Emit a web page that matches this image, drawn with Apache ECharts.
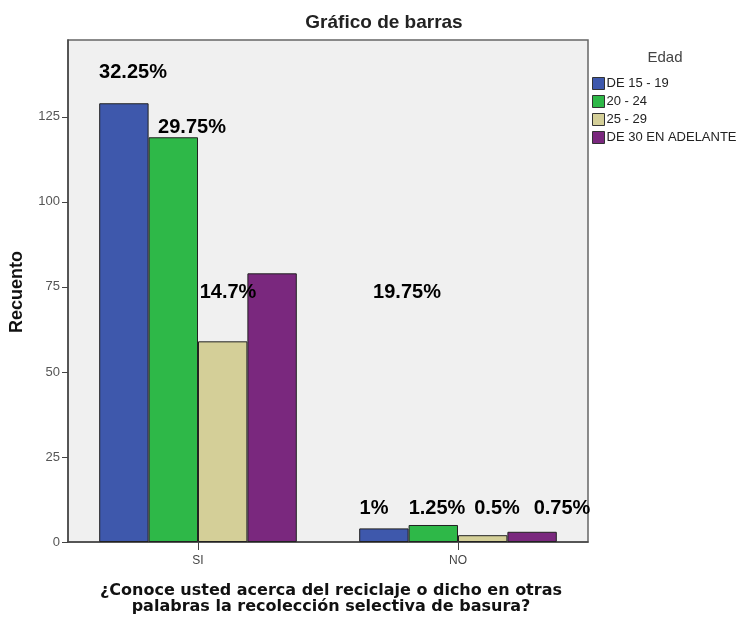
<!DOCTYPE html>
<html><head><meta charset="utf-8">
<script src="https://cdn.jsdelivr.net/npm/echarts@6/dist/echarts.min.js"></script>
<style>html,body{margin:0;padding:0;background:#fff}#c{width:739px;height:617px}</style>
</head><body><div id="c"></div>
<script>
const categories = ['SI', 'NO'];
const seriesNames = ['DE 15 - 19', '20 - 24', '25 - 29', 'DE 30 EN ADELANTE'];
const de15_19 = [129, 4];
const de20_24 = [119, 5];
const de25_29 = [59, 2];
const de30 = [79, 3];
const yTicks = [0, 25, 50, 75, 100, 125];
const pctLabels = ['32.25%', '29.75%', '14.7%', '19.75%', '1%', '1.25%', '0.5%', '0.75%'];

const colors = ['#3E58AC', '#2EB848', '#D4CF98', '#7A287E'];
const values = [de15_19, de20_24, de25_29, de30];
const labelPos = [[133,72],[192,127],[228,292],[407,292],[374,508],[437,508],[497,508],[562,508]];

const chart = echarts.init(document.getElementById('c'), null, {renderer:'canvas'});
chart.setOption({
  backgroundColor: '#fff',
  animation: false,
  legend: {
    data: seriesNames, orient: 'vertical', left: 592, top: 77, padding: 0, itemWidth: 12, itemHeight: 12, itemGap: 5,
    icon: 'rect', itemStyle: { borderColor: '#333', borderWidth: 1 },
    textStyle: { fontFamily: 'Liberation Sans', fontSize: 13, color: '#222', padding: [0,0,0,-3] }
  },
  grid: { left: 68, right: 151, top: 40, bottom: 75, containLabel: false, outerBoundsMode: 'none',
    show: true, backgroundColor: '#F0F0F0', borderColor: '#666', borderWidth: 1.5 },
  xAxis: {
    type: 'category', data: categories,
    axisLine: { lineStyle: { color: '#444', width: 1.5 } },
    axisTick: { show: true, alignWithLabel: true, length: 8, lineStyle: { color: '#444' } },
    axisLabel: { fontFamily: 'Liberation Sans', fontSize: 12, color: '#444', margin: 13 }
  },
  yAxis: {
    type: 'value', min: 0, max: 147.6, interval: 25,
    axisLine: { show: true, lineStyle: { color: '#444', width: 1.5 } },
    axisTick: { show: true, length: 6, lineStyle: { color: '#444' } },
    splitLine: { show: false },
    axisLabel: { fontFamily: 'Liberation Sans', fontSize: 13, color: '#555', margin: 8, showMaxLabel: false,
      formatter: v => yTicks.includes(v) ? String(v) : '' }
  },
  series: seriesNames.map((n, i) => ({
    name: n, type: 'bar', data: values[i], barGap: '0%', barCategoryGap: '24%',
    itemStyle: { color: colors[i], borderColor: '#222', borderWidth: 1 }
  })),
  graphic: pctLabels.map((t, i) => ({
    type: 'text', x: labelPos[i][0], y: labelPos[i][1], z: 10,
    style: { text: t, fontFamily: 'Liberation Sans', fontWeight: 'bold', fontSize: 20, fill: '#000', align: 'center', verticalAlign: 'middle' }
  })).concat([
    { type: 'text', x: 665, y: 58,
      style: { text: 'Edad', fontFamily: 'Liberation Sans', fontSize: 15, fill: '#444', align: 'center', verticalAlign: 'middle' } },
    { type: 'text', x: 384, y: 23,
      style: { text: 'Gráfico de barras', fontFamily: 'Liberation Sans', fontWeight: 'bold', fontSize: 19, fill: '#222', align: 'center', verticalAlign: 'middle' } },
    { type: 'text', x: 17, y: 292, rotation: Math.PI / 2,
      style: { text: 'Recuento', fontFamily: 'Liberation Sans', fontWeight: 'bold', fontSize: 18, fill: '#111', align: 'center', verticalAlign: 'middle' } },
    { type: 'text', x: 331, y: 599,
      style: { text: '¿Conoce usted acerca del reciclaje o dicho en otras\npalabras la recolección selectiva de basura?',
        fontFamily: 'DejaVu Sans', fontWeight: 'bold', fontSize: 16, lineHeight: 16, fill: '#111', align: 'center', verticalAlign: 'middle' } }
  ])
});
</script></body></html>
